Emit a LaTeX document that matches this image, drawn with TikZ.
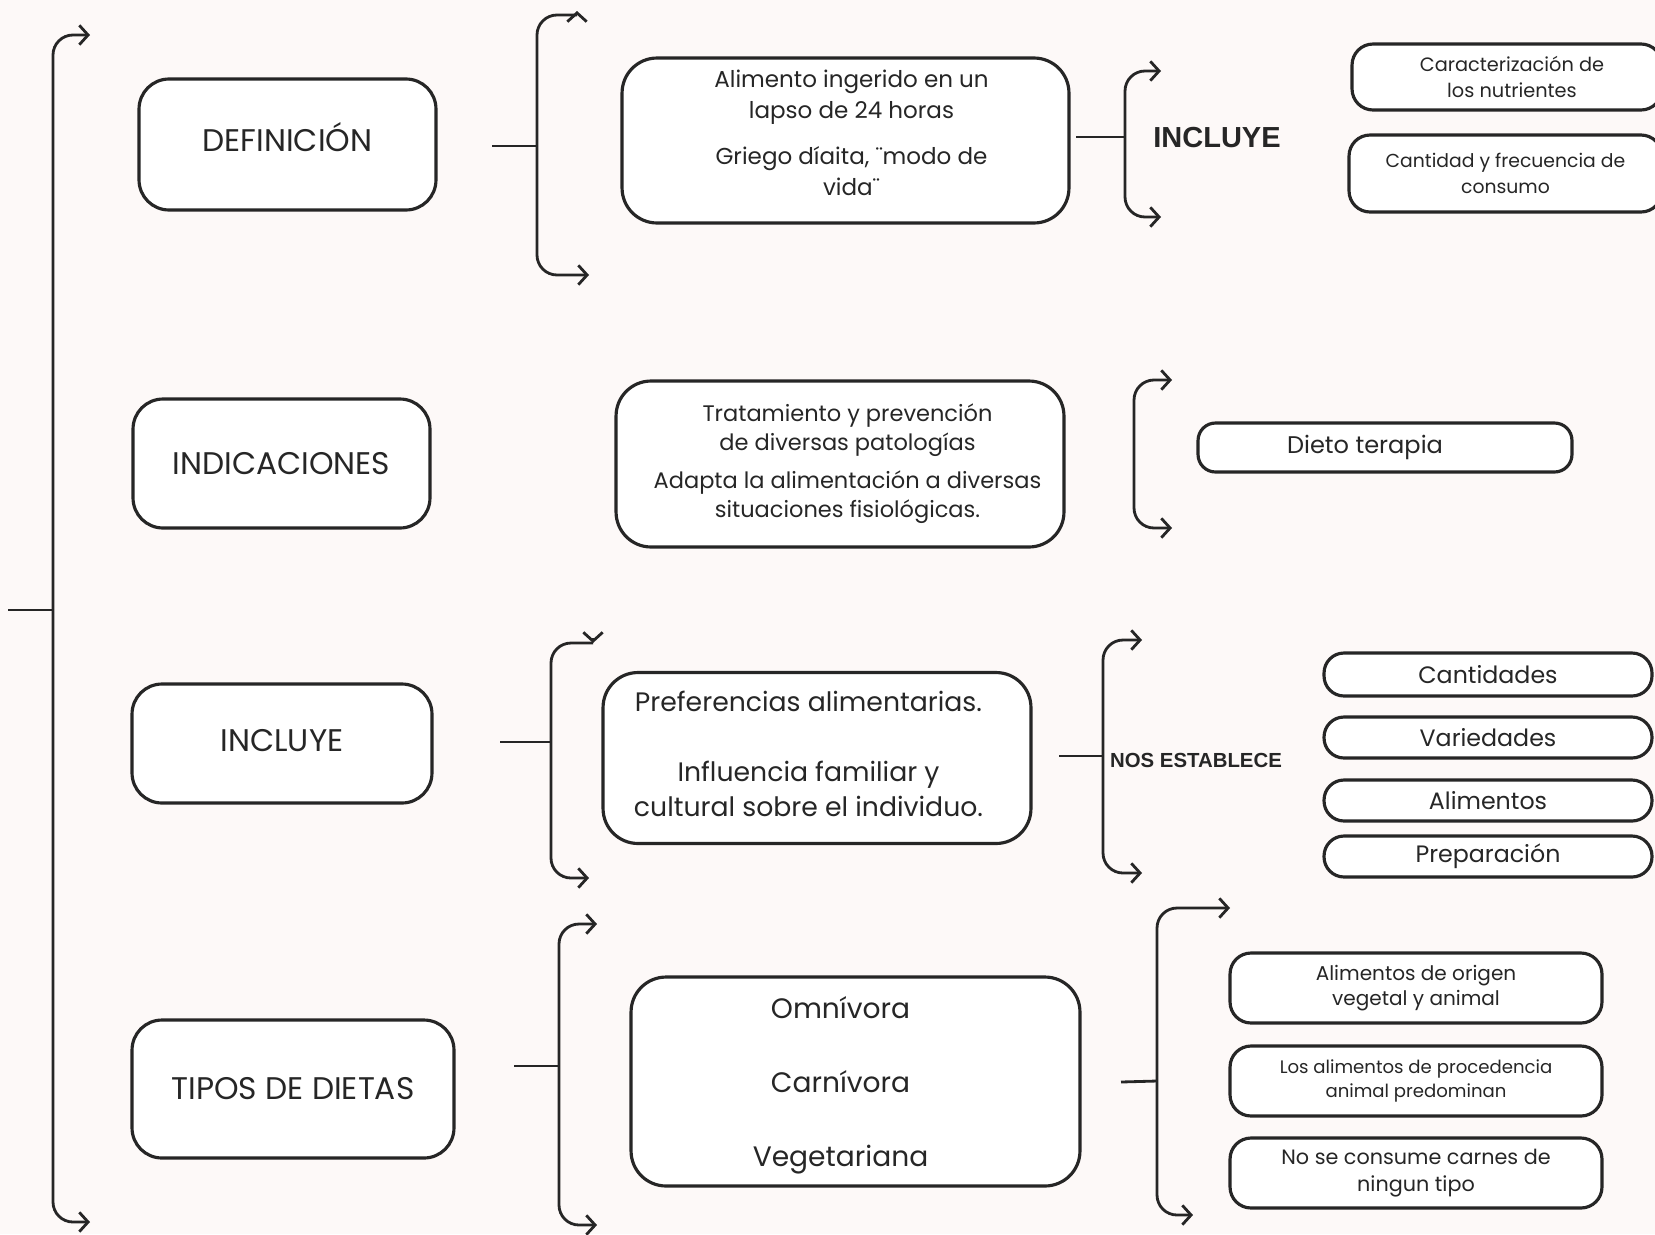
\documentclass[tikz,border=0pt]{standalone}
\usepackage{fontspec}
\setmainfont{Poppins}
\newfontfamily\headfont{Liberation Sans}
\usetikzlibrary{arrows.meta,positioning}

\definecolor{ink}{HTML}{262626}
\definecolor{paper}{HTML}{FDF9F8}

\tikzset{
  box/.style={draw=ink, fill=white, line width=1.8pt, rounded corners=0.6cm,
    align=center, text=ink, inner sep=0pt},
  pill/.style={box, rounded corners=0.42cm},
  brace/.style={draw=ink, line width=1.6pt, rounded corners=0.4cm,
    {Straight Barb[length=5pt,width=11pt]}-{Straight Barb[length=5pt,width=11pt]}},
  halfbrace/.style={brace, -{Straight Barb[length=5pt,width=11pt]}},
  tipmark/.style={draw=ink, line width=1.6pt, -{Straight Barb[length=5pt,width=11pt]}},
  stem/.style={draw=ink, line width=1.6pt},
  title/.style={font=\fontsize{17.8}{22}\selectfont},
  tag/.style={text=ink, font=\headfont\bfseries\fontsize{#1}{#1}\selectfont},
}

\begin{document}
\begin{tikzpicture}[x=0.02cm, y=-0.02cm]

  % fondo
  \useasboundingbox (0,0) rectangle (1655,1234);
  \fill[paper] (0,0) rectangle (1655,1234);

  % columna izquierda
  \node[box, title, text depth=8pt, minimum width=5.94cm, minimum height=2.62cm] (def) at (287.5,144.5) {DEFINICIÓN};
  \node[box, title, minimum width=5.94cm, minimum height=2.58cm] (ind) at (281.5,463.5) {INDICACIONES};
  \node[box, title, text depth=3pt, minimum width=6.00cm, minimum height=2.38cm] (inc) at (282,743.5) {INCLUYE};
  \node[box, title, minimum width=6.44cm, minimum height=2.76cm] (tip) at (293,1089) {TIPOS DE DIETAS};

  % columna central
  \node[box, rounded corners=0.7cm, minimum width=8.94cm, minimum height=3.3cm, text depth=9pt,
        font=\fontsize{13.1}{17.4}\selectfont] (m1) at (845.5,140.5)
        {\hspace*{0.24cm}Alimento ingerido en un\\\hspace*{0.24cm}lapso de 24 horas\\[9pt]
         \hspace*{0.24cm}Griego díaita, ¨modo de\\\hspace*{0.24cm}vida¨};
  \node[box, rounded corners=0.7cm, minimum width=8.96cm, minimum height=3.32cm,
        font=\fontsize{12.8}{16.6}\selectfont] (m2) at (840,464)
        {\hspace*{0.3cm}Tratamiento y prevención\\\hspace*{0.3cm}de diversas patologías\\[5pt]
         \hspace*{0.3cm}Adapta la alimentación a diversas\\\hspace*{0.3cm}situaciones fisiológicas.};
  \node[box, rounded corners=0.7cm, minimum width=8.56cm, minimum height=3.42cm, text depth=5pt,
        font=\fontsize{15.2}{19.8}\selectfont] (m3) at (817,758)
        {\hspace*{-0.34cm}Preferencias alimentarias.\\[20pt]\hspace*{-0.34cm}Influencia familiar y\\
         \hspace*{-0.34cm}cultural sobre el individuo.};
  \node[box, rounded corners=0.7cm, minimum width=8.98cm, minimum height=4.18cm, text depth=-2.5pt,
        font=\fontsize{16}{42}\selectfont] (m4) at (855.5,1081.5)
        {\hspace*{-0.6cm}Omnívora\\\hspace*{-0.6cm}Carnívora\\\hspace*{-0.6cm}Vegetariana};

  % columna derecha
  \node[tag=16.5] (lblA) at (1217,138) {INCLUYE};
  \node[pill, minimum width=6.2cm, minimum height=1.32cm,
        font=\fontsize{11}{15}\selectfont] (r1) at (1507,77) {\hspace*{0.2cm}Caracterización de\\\hspace*{0.2cm}los nutrientes};
  \node[pill, minimum width=6.26cm, minimum height=1.54cm,
        font=\fontsize{10.7}{14.4}\selectfont] (r2) at (1505.5,173.5) {Cantidad y frecuencia de\\consumo};

  \node[pill, rounded corners=0.35cm, minimum width=7.48cm, minimum height=0.98cm,
        font=\fontsize{13.7}{15}\selectfont] (dieto) at (1385,447.5) {Dieto terapia\hspace*{0.8cm}};

  \node[tag=11.6] (lblC) at (1196,760) {NOS ESTABLECE};
  \node[pill, rounded corners=0.4cm, minimum width=6.56cm, minimum height=0.86cm,
        font=\fontsize{13.5}{16}\selectfont] (cant) at (1488,674.5) {Cantidades};
  \node[pill, rounded corners=0.4cm, minimum width=6.56cm, minimum height=0.82cm,
        font=\fontsize{13.5}{16}\selectfont] (vari) at (1488,737.5) {Variedades};
  \node[pill, rounded corners=0.4cm, minimum width=6.56cm, minimum height=0.82cm,
        font=\fontsize{13.5}{16}\selectfont] (alim) at (1488,800.5) {Alimentos};
  \node[pill, rounded corners=0.4cm, minimum width=6.56cm, minimum height=0.82cm,
        font=\fontsize{13.5}{16}\selectfont] (prep) at (1488,856.5) {Preparación};

  \node[pill, minimum width=7.44cm, minimum height=1.4cm,
        font=\fontsize{11.4}{14.4}\selectfont] (b1) at (1416,988) {Alimentos de origen\\vegetal y animal};
  \node[pill, minimum width=7.44cm, minimum height=1.4cm,
        font=\fontsize{10.3}{13.2}\selectfont] (b2) at (1416,1081) {Los alimentos de procedencia\\animal predominan};
  \node[pill, minimum width=7.44cm, minimum height=1.4cm,
        font=\fontsize{11.8}{15}\selectfont] (b3) at (1416,1173) {No se consume carnes de\\ningun tipo};

  % llaves
  \coordinate (mRoot) at (8,610);   \coordinate (mJoin) at (53,610);
  \coordinate (mTop)  at (90,35);   \coordinate (mBot)  at (90,1222);
  \draw[brace] (mTop) -| (mJoin) |- (mBot);
  \draw[stem] (mRoot) -- (mJoin);

  \coordinate (aRoot) at (492,146); \coordinate (aJoin) at (537,146);
  \coordinate (aTop)  at (577,15);  \coordinate (aBot)  at (589,275);
  \coordinate (aTip)  at (577,11);
  \draw[halfbrace] (aTop) -| (aJoin) |- (aBot);
  \draw[tipmark] (aTop) -- (aTip);
  \draw[stem] (aRoot) -- (aJoin);

  \coordinate (a2Root) at (1076,137); \coordinate (a2Join) at (1125,137);
  \coordinate (a2Top)  at (1161,71);  \coordinate (a2Bot)  at (1161,217);
  \draw[brace] (a2Top) -| (a2Join) |- (a2Bot);
  \draw[stem] (a2Root) -- (a2Join);

  \coordinate (b2Join) at (1134,454);
  \coordinate (b2Top)  at (1172,380); \coordinate (b2Bot) at (1172,528);
  \draw[brace] (b2Top) -| (b2Join) |- (b2Bot);

  \coordinate (cRoot) at (500,742); \coordinate (cJoin) at (551,742);
  \coordinate (cTop)  at (593,643); \coordinate (cBot)  at (589,878);
  \coordinate (cTip)  at (593,638);
  \draw[halfbrace] (cTop) -| (cJoin) |- (cBot);
  \draw[tipmark] (cTip) -- (cTop);
  \draw[stem] (cRoot) -- (cJoin);

  \coordinate (c2Root) at (1059,756); \coordinate (c2Join) at (1103,756);
  \coordinate (c2Top)  at (1142,640); \coordinate (c2Bot)  at (1142,873);
  \draw[brace] (c2Top) -| (c2Join) |- (c2Bot);
  \draw[stem] (c2Root) -- (c2Join);

  \coordinate (dRoot) at (514,1066); \coordinate (dJoin) at (559,1066);
  \coordinate (dTop)  at (597,924);  \coordinate (dBot)  at (597,1225);
  \draw[brace] (dTop) -| (dJoin) |- (dBot);
  \draw[stem] (dRoot) -- (dJoin);

  \coordinate (d2Root) at (1121,1082); \coordinate (d2Join) at (1157,1081);
  \coordinate (d2Top)  at (1230,908);  \coordinate (d2Bot)  at (1193,1215);
  \draw[brace] (d2Top) -| (d2Join) |- (d2Bot);
  \draw[stem] (d2Root) -- (d2Join);

\end{tikzpicture}
\end{document}
